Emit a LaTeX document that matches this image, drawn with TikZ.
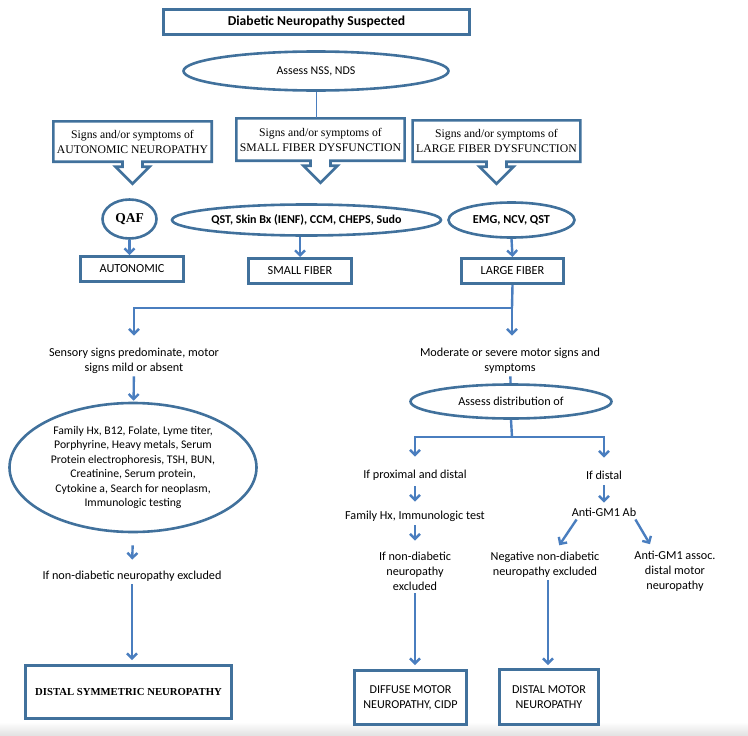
\documentclass[tikz,border=0pt]{standalone}
\usepackage{fontspec}
\setmainfont{Carlito}
\newfontfamily\serifface{Liberation Serif}
\usetikzlibrary{shapes.geometric,arrows.meta}
\definecolor{boxblue}{HTML}{41719C}
\definecolor{arrowblue}{HTML}{4A7EBF}
\tikzset{
  frame/.style={draw=boxblue, line width=3pt, align=center, inner sep=2pt},
  oval/.style={ellipse, draw=boxblue, line width=2.6pt, align=center, inner sep=0pt},
  callout/.style={draw=boxblue, line width=2.6pt, line join=miter},
  note/.style={align=center, inner sep=3pt, font=\fontsize{12.2}{15}\selectfont},
  flow/.style={draw=arrowblue, line width=2.4pt, -{Straight Barb[length=5pt,width=10pt]}},
  link/.style={draw=arrowblue, line width=2.4pt},
}
\begin{document}
\begin{tikzpicture}[x=1pt, y=-1pt]
    \useasboundingbox (0,0) rectangle (748,736);
    \shade[top color=white, bottom color=black!12] (0,722) rectangle (748,736);

    % Top: suspected neuropathy and first assessment
    \node[frame, minimum width=306pt, minimum height=25pt, font=\bfseries\fontsize{13.6}{14}\selectfont] (suspected) at (316.5,22) {Diabetic Neuropathy Suspected};
    \node[oval, minimum width=265pt, minimum height=39pt, font=\fontsize{11.9}{13}\selectfont] (nss) at (316,71) {Assess NSS, NDS};

    % Three callout boxes with hollow arrows
    \node[align=center, minimum width=158pt, minimum height=40pt, font=\serifface\fontsize{11.7}{15}\selectfont] (autosym) at (132.5,141.5) {Signs and/or symptoms of\\AUTONOMIC NEUROPATHY};
    \node[align=center, minimum width=160pt, minimum height=42pt, font=\serifface\fontsize{11.7}{15}\selectfont] (smallsym) at (320.5,139.5) {Signs and/or symptoms of\\SMALL FIBER DYSFUNCTION};
    \node[align=center, minimum width=158pt, minimum height=41pt, font=\serifface\fontsize{11.7}{15}\selectfont] (largesym) at (496.5,141) {Signs and/or symptoms of\\LARGE FIBER DYSFUNCTION};
    \foreach \n in {autosym,smallsym,largesym}
        \draw[callout] (\n.north west) -- (\n.north east) -- (\n.south east)
            -- ([xshift=10pt]\n.south) -- ++(0,5) -- ++(7,0) -- ++(-17,17)
            -- ++(-17,-17) -- ++(7,0) -- ++(0,-5) -- (\n.south west) -- cycle;
    \draw[draw=arrowblue, line width=1pt] (nss) -- (nss |- smallsym.north);

    % Tests and fibre classes
    \node[oval, minimum width=54pt, minimum height=39pt, font=\serifface\bfseries\fontsize{13.5}{14}\selectfont] (qaf) at (129.5,219) {QAF};
    \node[oval, minimum width=246pt, minimum height=31pt, font=\bfseries\fontsize{12}{13}\selectfont] (smalltest) at (306.5,220) {QST, Skin Bx (IENF), CCM, CHEPS, Sudo};
    \node[oval, minimum width=126pt, minimum height=35pt, font=\bfseries\fontsize{12.2}{13}\selectfont] (largetest) at (511.5,220) {EMG, NCV, QST};
    \node[frame, minimum width=103pt, minimum height=25pt, font=\fontsize{12.3}{13}\selectfont] (auto) at (132,269) {AUTONOMIC};
    \node[frame, minimum width=103pt, minimum height=25pt, font=\fontsize{12.3}{13}\selectfont] (small) at (300,271) {SMALL FIBER};
    \node[frame, minimum width=102pt, minimum height=25pt, font=\fontsize{12.3}{13}\selectfont] (large) at (512.5,271) {LARGE FIBER};
    \draw[flow] (qaf.south) -- (qaf.south |- auto.north);
    \draw[flow] (small.north |- smalltest.south) -- (small.north);
    \draw[flow] (largetest.south) -- (large.north);

    % Split into sensory and motor branches
    \coordinate (split) at (512,308);
    \node[note] (sensory) at (134,360.5) {Sensory signs predominate, motor\\signs mild or absent};
    \node[note] (motor) at (510,360.5) {Moderate or severe motor signs and\\symptoms};
    \draw[link] (large.south) -- (split);
    \draw[flow, shorten >=9pt] (split) -| (sensory.north);
    \draw[flow, shorten >=9pt] (split) -- (split |- motor.north);

    % Sensory branch
    \node[oval, minimum width=247pt, minimum height=129pt, font=\fontsize{11.7}{14.4}\selectfont] (workup) at (133,467.5)
        {Family Hx, B12, Folate, Lyme titer,\\Porphyrine, Heavy metals, Serum\\Protein electrophoresis, TSH, BUN,\\Creatinine, Serum protein,\\Cytokine a, Search for neoplasm,\\Immunologic testing};
    \node[note] (ifexcl) at (132,576) {If non-diabetic neuropathy excluded};
    \node[frame, minimum width=206pt, minimum height=53pt, font=\serifface\bfseries\fontsize{10.7}{12}\selectfont] (dsn) at (128.5,692) {DISTAL SYMMETRIC NEUROPATHY};
    \draw[flow, shorten >=1pt] (sensory) -- (workup);
    \draw[flow, shorten <=12pt, shorten >=8pt] (workup.south) -- (ifexcl.north);
    \draw[flow, shorten >=4pt] (ifexcl.south) -- (ifexcl.south |- dsn.north);

    % Motor branch
    \node[oval, minimum width=201pt, minimum height=34pt, font=\fontsize{12.2}{13}\selectfont] (distrib) at (511,401.5) {Assess distribution of};
    \coordinate (branch) at (512,437);
    \node[note] (proxdist) at (415,475) {If proximal and distal};
    \node[note] (distal) at (604,475) {If distal};
    \node[note] (famhx) at (415,516) {Family Hx, Immunologic test};
    \node[note] (ifnon) at (415,571) {If non-diabetic\\neuropathy\\excluded};
    \node[note] (antigm) at (604,512) {Anti-GM1 Ab};
    \node[note] (negative) at (545,564.5) {Negative non-diabetic\\neuropathy excluded};
    \node[note] (assoc) at (675,571) {Anti-GM1 assoc.\\distal motor\\neuropathy};
    \node[frame, minimum width=112pt, minimum height=54pt, font=\fontsize{12.1}{15}\selectfont] (diffuse) at (410.5,697.5) {DIFFUSE MOTOR\\NEUROPATHY, CIDP};
    \node[frame, minimum width=99pt, minimum height=55pt, font=\fontsize{12.1}{15}\selectfont] (distalmotor) at (549,697) {DISTAL MOTOR\\NEUROPATHY};
    \draw[link] (motor) -- (distrib);
    \draw[link] (distrib.south) -- (branch);
    \draw[flow, shorten >=10pt] (branch) -| (proxdist.north);
    \draw[flow, shorten >=10pt] (branch) -| (distal.north);
    \draw[flow, shorten <=3pt, shorten >=6pt] (proxdist) -- (famhx);
    \draw[flow, shorten <=1pt, shorten >=8pt] (famhx) -- (ifnon);
    \draw[flow, shorten >=4pt] (ifnon.south) -- (ifnon.south |- diffuse.north);
    \draw[flow, shorten <=3pt, shorten >=2pt] (distal) -- (antigm);
    \draw[flow, shorten >=4pt] ([xshift=8pt]antigm.south west) -- ([xshift=12pt]negative.north);
    \draw[flow, shorten >=4pt] ([xshift=-4pt]antigm.south east) -- ([xshift=-23pt]assoc.north);
    \draw[flow, shorten >=3pt] ([xshift=3pt]negative.south) -- ([xshift=3pt]negative.south |- distalmotor.north);
\end{tikzpicture}
\end{document}
